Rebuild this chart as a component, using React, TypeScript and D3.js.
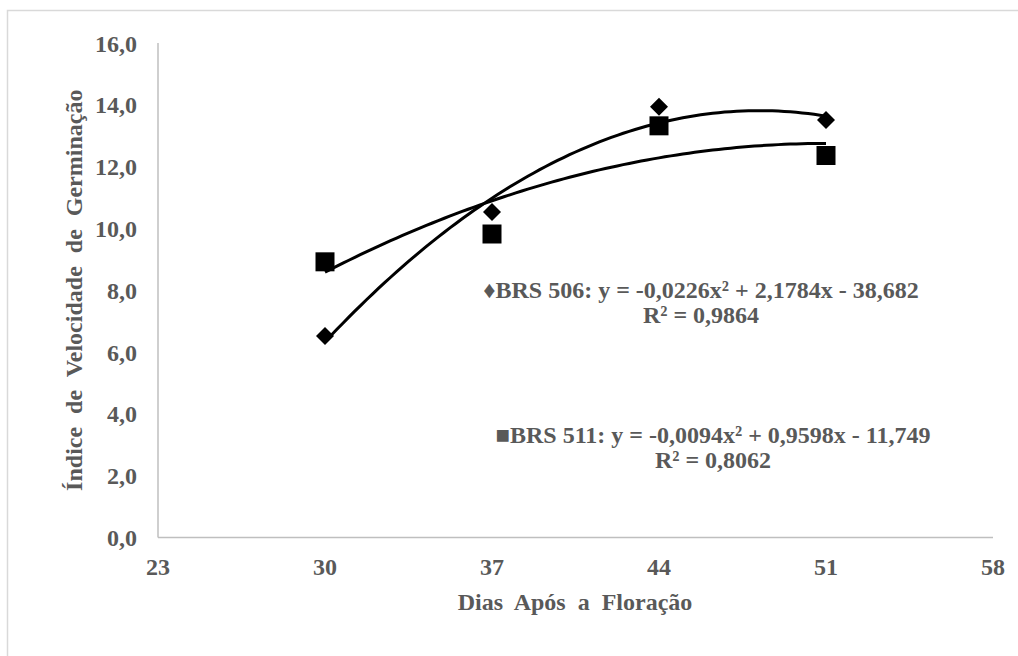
import React from 'react';
import * as d3 from 'd3';

// Dias após a floração
const days = [30, 37, 44, 51];
// Índice de velocidade de germinação
const brs506 = [6.52, 10.53, 13.94, 13.51];
const brs511 = [8.92, 9.82, 13.32, 12.36];
// quadratic trendline coefficients (a, b, c) as printed on the chart
const fit506 = [-0.0226, 2.1784, -38.682];
const fit511 = [-0.0094, 0.9598, -11.749];

const xTicks = [23, 30, 37, 44, 51, 58];
const yTicks = [0, 2, 4, 6, 8, 10, 12, 14, 16];

const eq506 = ['♦BRS 506: y = -0,0226x² + 2,1784x - 38,682', 'R² = 0,9864'];
const eq511 = ['■BRS 511: y = -0,0094x² + 0,9598x - 11,749', 'R² = 0,8062'];

const W = 1018, H = 656;
const FONT = "'Liberation Serif', 'Times New Roman', serif";
const GREY = '#595959';

const App = () => {
  const x = d3.scaleLinear().domain([23, 58]).range([158, 993]);
  const y = d3.scaleLinear().domain([0, 16]).range([537.5, 43]);
  const fmt = (v: number) => d3.format('.1f')(v).replace('.', ',');

  const trend = (c: number[]) => {
    const xs = d3.range(days[0], days[days.length - 1] + 0.001, 0.25);
    return d3.line<number>()
      .x(d => x(d))
      .y(d => y(c[0] * d * d + c[1] * d + c[2]))(xs);
  };

  const square = d3.symbol().type(d3.symbolSquare).size(19 * 19)();
  const diamond = d3.symbol().type(d3.symbolSquare).size(162)();

  return (
    <svg width={W} height={H}
      style={{ position: 'absolute', left: 0, top: 0, background: '#fff', fontFamily: FONT, fontWeight: 'bold' }}>
      <rect x={7.5} y={10.5} width={1030} height={700} fill="#fff" stroke="#d9d9d9" strokeWidth={1.5} />

      {/* axes */}
      <line x1={x(23)} x2={x(23)} y1={y(16)} y2={y(0)} stroke="#bfbfbf" strokeWidth={1.5} />
      <line x1={x(23)} x2={x(58)} y1={y(0)} y2={y(0)} stroke="#bfbfbf" strokeWidth={1.5} />

      {yTicks.map(t => (
        <text key={'y' + t} x={137} y={y(t) + 8.5} textAnchor="end" fontSize={24} fill={GREY}>{fmt(t)}</text>
      ))}
      {xTicks.map(t => (
        <text key={'x' + t} x={x(t)} y={575} textAnchor="middle" fontSize={24} fill={GREY}>{t}</text>
      ))}

      <text x={575} y={610} textAnchor="middle" fontSize={24} fill={GREY} style={{ wordSpacing: '6px' }}>
        Dias Após a Floração
      </text>
      <text transform={`translate(82,${(y(0) + y(16)) / 2}) rotate(-90)`} textAnchor="middle" fontSize={24}
        fill={GREY} style={{ wordSpacing: '7px' }}>
        Índice de Velocidade de Germinação
      </text>

      {/* trendlines */}
      <path d={trend(fit506) || ''} fill="none" stroke="#000" strokeWidth={3} />
      <path d={trend(fit511) || ''} fill="none" stroke="#000" strokeWidth={3} />

      {/* points */}
      {days.map((d, i) => (
        <path key={'d' + i} d={diamond || ''} transform={`translate(${x(d)},${y(brs506[i])}) rotate(45)`} fill="#000" />
      ))}
      {days.map((d, i) => (
        <path key={'s' + i} d={square || ''} transform={`translate(${x(d)},${y(brs511[i])})`} fill="#000" />
      ))}

      {/* equations */}
      {eq506.map((t, i) => (
        <text key={'e1' + i} x={701} y={298 + i * 25} textAnchor="middle" fontSize={24} fill={GREY}>{t}</text>
      ))}
      {eq511.map((t, i) => (
        <text key={'e2' + i} x={713} y={443 + i * 25} textAnchor="middle" fontSize={24} fill={GREY}>{t}</text>
      ))}
    </svg>
  );
};

export default App;
